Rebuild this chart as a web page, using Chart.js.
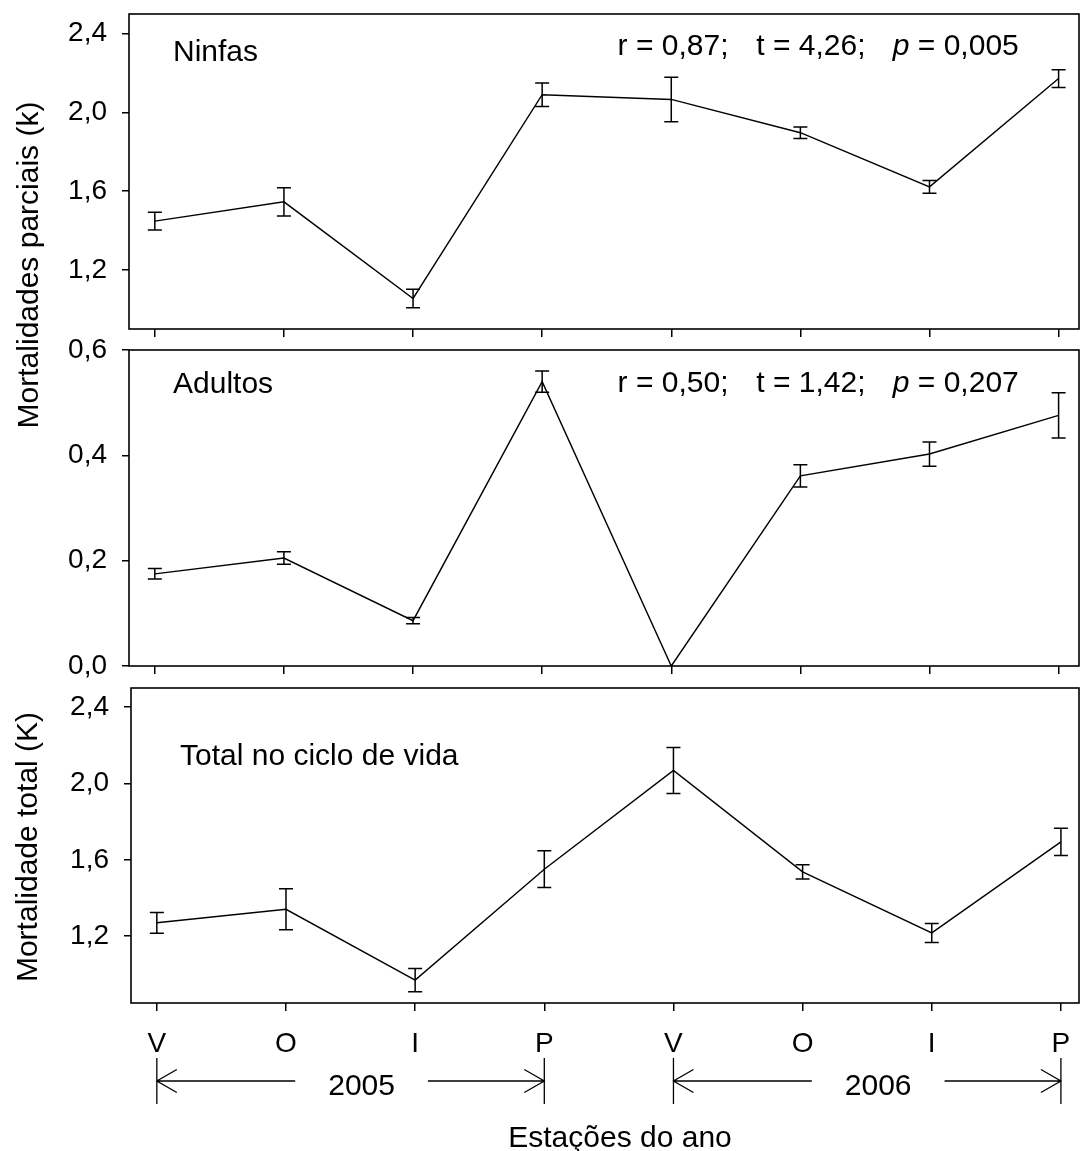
<!DOCTYPE html>
<html lang="pt">
<head>
<meta charset="utf-8">
<title>Mortalidades parciais e total</title>
<script src="https://cdn.jsdelivr.net/npm/chart.js@4.4.1/dist/chart.umd.min.js"></script>
<style>
  html, body { margin: 0; padding: 0; background: #fff; }
  #wrap { position: relative; width: 1080px; height: 1151px; overflow: hidden; }
  #wrap canvas { position: absolute; left: 0; top: 0; }
</style>
</head>
<body>
<div id="wrap">
  <canvas id="ninfasChart" width="1080" height="1151"></canvas>
  <canvas id="adultosChart" width="1080" height="1151"></canvas>
  <canvas id="totalChart" width="1080" height="1151"></canvas>
</div>
<script>
const seasons = ["V", "O", "I", "P", "V", "O", "I", "P"];
const years = ["2005", "2006"];

// Ninfas
const ninfas = [1.448, 1.546, 1.055, 2.09, 2.066, 1.897, 1.622, 2.172];
const ninfasErr = [0.045, 0.072, 0.047, 0.06, 0.113, 0.029, 0.032, 0.045];
const ninfasTicks = [1.2, 1.6, 2.0, 2.4];
const ninfasStats = ["0,87", "4,26", "0,005"];

// Adultos
const adultos = [0.175, 0.205, 0.086, 0.54, 0.0, 0.361, 0.4025, 0.476];
const adultosErr = [0.01, 0.012, 0.006, 0.02, 0, 0.021, 0.023, 0.043];
const adultosTicks = [0.0, 0.2, 0.4, 0.6];
const adultosStats = ["0,50", "1,42", "0,207"];

// Total no ciclo de vida
const total = [1.27, 1.341, 0.97, 1.551, 2.068, 1.537, 1.217, 1.694];
const totalErr = [0.054, 0.107, 0.061, 0.096, 0.12, 0.037, 0.05, 0.072];
const totalTicks = [1.2, 1.6, 2.0, 2.4];

const FONT = "'Liberation Sans', Arial, Helvetica, sans-serif";
Chart.defaults.font.family = FONT;
Chart.defaults.color = "#000";

function fmt(v) {
  return v.toFixed(1).replace(".", ",");
}

function rotatedText(ctx, text, x, y, size) {
  ctx.save();
  ctx.translate(x, y);
  ctx.rotate(-Math.PI / 2);
  ctx.font = size + "px " + FONT;
  ctx.textAlign = "center";
  ctx.textBaseline = "alphabetic";
  ctx.fillText(text, 0, 0);
  ctx.restore();
}

const panelDecor = {
  id: "panelDecor",
  afterDatasetsDraw(chart, args, opts) {
    const ctx = chart.ctx;
    const area = chart.chartArea;
    const yScale = chart.scales.y;

    // error bars
    ctx.save();
    ctx.strokeStyle = "#000";
    ctx.lineWidth = 1.5;
    chart.data.datasets.forEach((ds, di) => {
      const meta = chart.getDatasetMeta(di);
      meta.data.forEach((pt, i) => {
        const e = ds.errors[i];
        if (!e) return;
        const v = ds.data[i].y;
        const top = yScale.getPixelForValue(v + e);
        const bot = yScale.getPixelForValue(v - e);
        ctx.beginPath();
        ctx.moveTo(pt.x, top);
        ctx.lineTo(pt.x, bot);
        ctx.moveTo(pt.x - 7, top);
        ctx.lineTo(pt.x + 7, top);
        ctx.moveTo(pt.x - 7, bot);
        ctx.lineTo(pt.x + 7, bot);
        ctx.stroke();
      });
    });

    // frame
    ctx.lineWidth = 1.6;
    ctx.strokeRect(area.left, area.top, area.right - area.left, area.bottom - area.top);
    ctx.restore();

    // texts
    ctx.save();
    ctx.fillStyle = "#000";
    ctx.textBaseline = "alphabetic";
    ctx.textAlign = "left";
    ctx.font = "30px " + FONT;
    if (opts.label) {
      ctx.fillText(opts.label.text, opts.label.x, opts.label.y);
    }
    if (opts.stats) {
      const s = opts.stats;
      ctx.fillText("r = " + s.values[0] + ";", s.x[0], s.y);
      ctx.fillText("t = " + s.values[1] + ";", s.x[1], s.y);
      ctx.font = "italic 30px " + FONT;
      ctx.fillText("p", s.x[2], s.y);
      const pw = ctx.measureText("p").width;
      ctx.font = "30px " + FONT;
      ctx.fillText(" = " + s.values[2], s.x[2] + pw, s.y);
    }
    if (opts.yTitle) {
      rotatedText(ctx, opts.yTitle.text, opts.yTitle.x, opts.yTitle.y, 30);
    }
    ctx.restore();
  },
};

const yearBrackets = {
  id: "yearBrackets",
  afterDraw(chart) {
    const ctx = chart.ctx;
    const xs = chart.scales.x;
    const yMid = 1081;
    ctx.save();
    ctx.strokeStyle = "#000";
    ctx.fillStyle = "#000";
    ctx.lineWidth = 1.3;
    ctx.font = "30px " + FONT;
    ctx.textAlign = "center";
    ctx.textBaseline = "alphabetic";
    years.forEach((yr, k) => {
      const x1 = xs.getPixelForValue(k * 4 + 1);
      const x2 = xs.getPixelForValue(k * 4 + 4);
      const cx = (x1 + x2) / 2 + 11;
      const half = ctx.measureText(yr).width / 2 + 33;
      ctx.beginPath();
      ctx.moveTo(x1, 1058);
      ctx.lineTo(x1, 1104);
      ctx.moveTo(x2, 1058);
      ctx.lineTo(x2, 1104);
      ctx.moveTo(x1, yMid);
      ctx.lineTo(cx - half, yMid);
      ctx.moveTo(cx + half, yMid);
      ctx.lineTo(x2, yMid);
      // arrow heads
      ctx.moveTo(x1 + 20, yMid - 11.5);
      ctx.lineTo(x1, yMid);
      ctx.lineTo(x1 + 20, yMid + 11.5);
      ctx.moveTo(x2 - 20, yMid - 11.5);
      ctx.lineTo(x2, yMid);
      ctx.lineTo(x2 - 20, yMid + 11.5);
      ctx.stroke();
      ctx.fillText(yr, cx, 1095);
    });
    ctx.fillText("Estações do ano", 620, 1147);
    ctx.restore();
  },
};

function makePanel(canvasId, p) {
  const ctx = document.getElementById(canvasId).getContext("2d");
  const plugins = [panelDecor];
  if (p.showLabels) plugins.push(yearBrackets);

  return new Chart(ctx, {
    type: "line",
    data: {
      datasets: [
        {
          data: p.values.map((v, i) => ({ x: i + 1, y: v })),
          errors: p.errors,
          borderColor: "#000",
          borderWidth: 1.4,
          pointRadius: 0,
          tension: 0,
          fill: false,
          clip: false,
        },
      ],
    },
    options: {
      responsive: false,
      animation: false,
      layout: {
        padding: { top: p.top, right: 1, bottom: 0, left: 0 },
      },
      plugins: {
        legend: { display: false },
        tooltip: { enabled: false },
        panelDecor: p.decor,
      },
      scales: {
        x: {
          type: "linear",
          min: 0.8,
          max: p.xMax,
          border: { display: false },
          grid: {
            drawOnChartArea: false,
            drawTicks: true,
            tickLength: 8,
            color: "#000",
            lineWidth: 1.5,
          },
          ticks: {
            display: !!p.showLabels,
            padding: 16,
            maxRotation: 0,
            font: { size: 28 },
            color: "#000",
            callback: (v) => seasons[v - 1] || "",
          },
          afterBuildTicks: (scale) => {
            scale.ticks = seasons.map((s, i) => ({ value: i + 1 }));
          },
          afterFit: (scale) => {
            scale.height = 1151 - p.bottom;
            scale.paddingLeft = 0;
            scale.paddingRight = 0;
          },
        },
        y: {
          type: "linear",
          min: p.yMin,
          max: p.yMax,
          border: { display: false },
          grid: {
            drawOnChartArea: false,
            drawTicks: true,
            tickLength: 7,
            color: "#000",
            lineWidth: 1.5,
          },
          ticks: {
            padding: 15,
            font: { size: 28 },
            color: "#000",
            callback: (v) => fmt(v),
          },
          afterBuildTicks: (scale) => {
            scale.ticks = p.yTicks.map((v) => ({ value: v }));
          },
          afterFit: (scale) => {
            scale.width = p.left;
            scale.paddingTop = 0;
            scale.paddingBottom = 0;
          },
        },
      },
    },
    plugins: plugins,
  });
}

document.addEventListener("DOMContentLoaded", function () {
  const statsX = [617.6, 756.3, 892.8];

  makePanel("ninfasChart", {
    values: ninfas,
    errors: ninfasErr,
    yMin: 0.9,
    yMax: 2.5,
    yTicks: ninfasTicks,
    top: 14,
    bottom: 329,
    left: 129,
    xMax: 8.158,
    decor: {
      label: { text: "Ninfas", x: 173, y: 61 },
      stats: { values: ninfasStats, x: statsX, y: 55 },
      yTitle: { text: "Mortalidades parciais (k)", x: 38, y: 265 },
    },
  });

  makePanel("adultosChart", {
    values: adultos,
    errors: adultosErr,
    yMin: 0,
    yMax: 0.6,
    yTicks: adultosTicks,
    top: 350,
    bottom: 666,
    left: 129,
    xMax: 8.158,
    decor: {
      label: { text: "Adultos", x: 173, y: 393 },
      stats: { values: adultosStats, x: statsX, y: 392 },
    },
  });

  makePanel("totalChart", {
    values: total,
    errors: totalErr,
    yMin: 0.85,
    yMax: 2.5,
    yTicks: totalTicks,
    top: 688,
    bottom: 1003,
    left: 131,
    xMax: 8.14,
    showLabels: true,
    decor: {
      label: { text: "Total no ciclo de vida", x: 180, y: 765 },
      yTitle: { text: "Mortalidade total (K)", x: 37, y: 847 },
    },
  });
});
</script>
</body>
</html>
